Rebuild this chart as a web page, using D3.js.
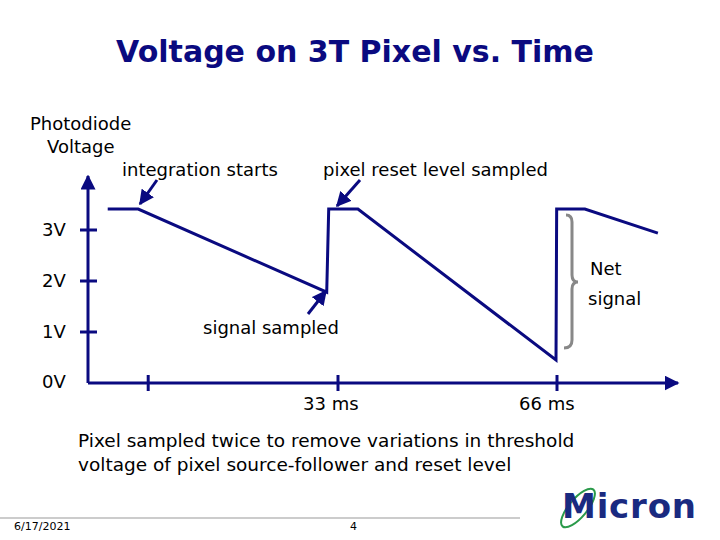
<!DOCTYPE html><html><head><meta charset="utf-8"><script src="https://cdn.jsdelivr.net/npm/d3@7"></script>
<style>body{margin:0;background:#fff}text{font-family:"DejaVu Sans",sans-serif}</style></head><body><svg id="c" width="720" height="540"></svg>
<script>
const times=[-1.7,2.9,31.3,31.6,36,65.85,65.95,70.2,81.2];
const volts=[3.41,3.41,1.78,3.41,3.41,0.45,3.41,3.41,2.94];
const yTicks=[3,2,1];
const yLabels=["3V","2V","1V"];
const xTicks=[4.4,33,66];
const xLabels=["","33 ms","66 ms"];
const navy="#0a0a80";
const svg=d3.select("#c");
const x=d3.scaleLinear().domain([0,33]).range([119,338]);
const y=d3.scaleLinear().domain([0,3]).range([383,230]);
svg.append("text").attr("x",355).attr("y",62).attr("text-anchor","middle").attr("fill",navy).attr("font-size",30).attr("font-weight","bold").attr("font-family","DejaVu Sans Condensed").text("Voltage on 3T Pixel vs. Time");
const t=(s,xx,yy,a,fs)=>svg.append("text").attr("x",xx).attr("y",yy).attr("text-anchor",a||"start").attr("font-size",fs||18).attr("fill","#000").text(s);
t("Photodiode",30,130);t("Voltage",47,153);
t("integration starts",122,176);t("pixel reset level sampled",323,176);
t("signal sampled",203,334);
t("Net",590,275);t("signal",588,305);
t("0V",42,388);
yTicks.forEach((v,i)=>t(yLabels[i],42,y(v)+6));
xTicks.forEach((v,i)=>{if(xLabels[i])t(xLabels[i],x(v)+(i==1?-35:-38),410)});
t("Pixel sampled twice to remove variations in threshold",78,447,"start",18.5);
t("voltage of pixel source-follower and reset level",78,471,"start",18.5);
svg.append("defs").append("marker").attr("id","ar").attr("viewBox","0 0 10 10").attr("refX",9).attr("refY",5).attr("markerWidth",5).attr("markerHeight",5).attr("orient","auto").append("path").attr("d","M0,0L10,5L0,10z").attr("fill",navy);
const ax=svg.append("g").attr("stroke",navy).attr("stroke-width",3);
ax.append("line").attr("x1",88).attr("y1",383).attr("x2",88).attr("y2",176).attr("marker-end","url(#ar)");
ax.append("line").attr("x1",88).attr("y1",383).attr("x2",678).attr("y2",383).attr("marker-end","url(#ar)");
yTicks.forEach(v=>ax.append("line").attr("x1",80).attr("x2",97).attr("y1",y(v)).attr("y2",y(v)));
xTicks.forEach(v=>ax.append("line").attr("x1",x(v)).attr("x2",x(v)).attr("y1",375).attr("y2",391));
const pts=times.map((d,i)=>[x(d),y(volts[i])]);
svg.append("path").attr("d",d3.line()(pts)).attr("fill","none").attr("stroke",navy).attr("stroke-width",3);
const arr=(a,b,c,d)=>svg.append("line").attr("x1",a).attr("y1",b).attr("x2",c).attr("y2",d).attr("stroke",navy).attr("stroke-width",3).attr("marker-end","url(#ar)");
arr(157,180,140,204);arr(360,180,337,206);arr(308,314,326,291);
svg.append("path").attr("d","M566,215 Q572,215 572,222 L572,275 Q572,282 578,282 Q572,282 572,289 L572,340 Q572,348 564,348").attr("fill","none").attr("stroke","#888").attr("stroke-width",3);
svg.append("line").attr("x1",0).attr("x2",520).attr("y1",518).attr("y2",518).attr("stroke","#999").attr("stroke-width",1);
t("6/17/2021",14,530,"start",11);t("4",350,530,"start",11);
svg.append("ellipse").attr("cx",578).attr("cy",508).attr("rx",24).attr("ry",9).attr("transform","rotate(-50,578,508)").attr("fill","none").attr("stroke","#2a9a4a").attr("stroke-width",2);
svg.append("text").attr("x",562).attr("y",518).attr("font-size",34).attr("font-weight","bold").attr("fill","#1a2a80").attr("font-family","DejaVu Sans").attr("textLength",134).text("Micron");
</script></body></html>
